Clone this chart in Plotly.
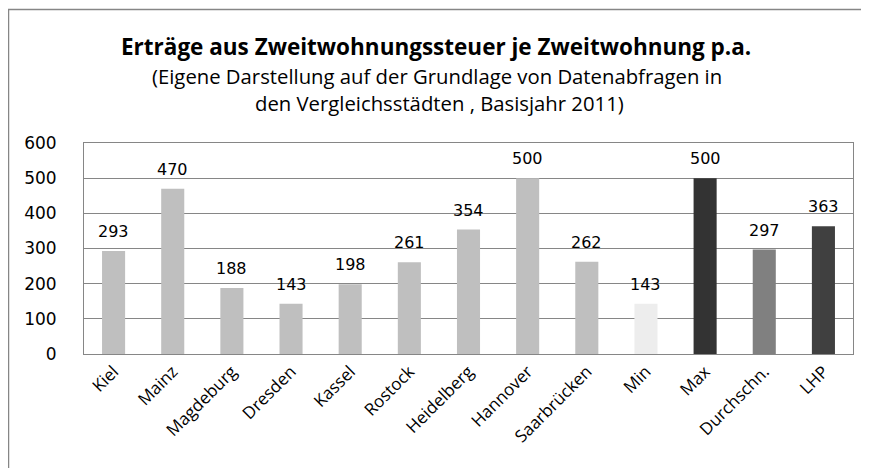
import plotly.graph_objects as go

categories = ["Kiel", "Mainz", "Magdeburg", "Dresden", "Kassel", "Rostock", "Heidelberg",
              "Hannover", "Saarbrücken", "Min", "Max", "Durchschn.", "LHP"]
values = [293, 470, 188, 143, 198, 261, 354, 500, 262, 143, 500, 297, 363]
colors = ["#BFBFBF"] * 9 + ["#EDEDED", "#333333", "#808080", "#404040"]
y_ticks = [0, 100, 200, 300, 400, 500, 600]

# page body adds ~8px offset; figure coordinates are screen coordinates minus OFF
OFF = 8
W, H = 869 - OFF, 468 - OFF
L, R, T, B = 84 - OFF, 869 - 853, 143 - OFF, 468 - 354
pw = W - L - R
ph = H - T - B

def px2paper(sx, sy):
    fx, fy = sx - OFF, sy - OFF
    return (fx - L) / pw, (H - B - fy) / ph

fig = go.Figure()
fig.add_trace(go.Bar(
    x=categories, y=values, marker=dict(color=colors, line=dict(width=0)),
    width=0.39, hoverinfo="x+y",
))

anns = []
for c, v in zip(categories, values):
    anns.append(dict(x=c, y=v, xref="x", yref="y", text=str(v), showarrow=False,
                     yanchor="bottom", yshift=8,
                     font=dict(family="DejaVu Sans", size=16, color="#000000")))

titles = [
    ("<b>Erträge aus Zweitwohnungssteuer je Zweitwohnung p.a.</b>", 436, 47, 22.5),
    ("(Eigene Darstellung auf der Grundlage von Datenabfragen in", 437, 76, 20.3),
    ("den Vergleichsstädten , Basisjahr 2011)", 439, 103, 20.3),
]
for txt, x, y, s in titles:
    ax, ay = px2paper(x, y)
    anns.append(dict(text=txt, x=ax, y=ay, xref="paper", yref="paper", showarrow=False,
                     xanchor="center", yanchor="middle",
                     font=dict(family="Open Sans", size=s, color="#000000")))

fig.update_layout(
    width=W, height=H,
    margin=dict(l=L, r=R, t=T, b=B),
    paper_bgcolor="white", plot_bgcolor="white",
    showlegend=False,
    font=dict(family="Open Sans", color="#000000"),
    annotations=anns,
)

fig.update_xaxes(
    tickangle=-45, tickfont=dict(family="Open Sans", size=17, color="#000000"),
    showline=True, linecolor="#868686", mirror=True, ticks="",
    showgrid=False, automargin=False,
)
fig.update_yaxes(
    range=[0, 600], tickvals=y_ticks, tickfont=dict(family="DejaVu Sans", size=17, color="#000000"),
    showline=True, linecolor="#868686", mirror=True, gridcolor="#868686", gridwidth=1,
    ticks="", zeroline=False, ticklabelstandoff=23, automargin=False,
)
# outer chart frame
x0, y0 = px2paper(8.5, 480)
x1, y1 = px2paper(880, 9.5)
fig.add_shape(type="rect", xref="paper", yref="paper",
              x0=x0, x1=x1, y0=y0, y1=y1,
              line=dict(color="#868686", width=1.5))
fig.write_html("out.html")
